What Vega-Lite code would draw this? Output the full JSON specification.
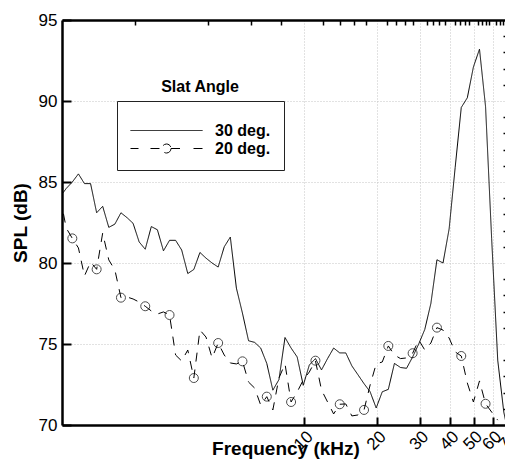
{
  "$schema": "https://vega.github.io/schema/vega-lite/v6.json",
  "width": 447,
  "height": 405,
  "autosize": {"type": "none"},
  "padding": {"left": 62, "top": 20, "right": -4, "bottom": 36},
  "config": {
    "view": {"stroke": null},
    "font": "Liberation Sans",
    "axis": {
      "domainColor": "black",
      "domainWidth": 2.5,
      "tickColor": "black",
      "labelColor": "black",
      "labelFont": "Liberation Sans",
      "labelFontSize": 17,
      "titleFont": "Liberation Sans",
      "titleFontSize": 19,
      "titleFontWeight": "bold",
      "titleColor": "black",
      "gridColor": "#c4c4c4",
      "gridDash": [1, 2],
      "gridWidth": 1
    }
  },
  "datasets": {
    "d": [
      {"f": 0.983, "spl": 84.1, "s": "30 deg."},
      {"f": 1.041, "spl": 84.6, "s": "30 deg."},
      {"f": 1.103, "spl": 85.0, "s": "30 deg."},
      {"f": 1.169, "spl": 85.5, "s": "30 deg."},
      {"f": 1.238, "spl": 84.9, "s": "30 deg."},
      {"f": 1.312, "spl": 84.9, "s": "30 deg."},
      {"f": 1.390, "spl": 83.1, "s": "30 deg."},
      {"f": 1.472, "spl": 83.5, "s": "30 deg."},
      {"f": 1.560, "spl": 82.2, "s": "30 deg."},
      {"f": 1.653, "spl": 82.4, "s": "30 deg."},
      {"f": 1.751, "spl": 83.1, "s": "30 deg."},
      {"f": 1.855, "spl": 82.8, "s": "30 deg."},
      {"f": 1.965, "spl": 82.45, "s": "30 deg."},
      {"f": 2.082, "spl": 81.3, "s": "30 deg."},
      {"f": 2.206, "spl": 80.85, "s": "30 deg."},
      {"f": 2.337, "spl": 82.25, "s": "30 deg."},
      {"f": 2.476, "spl": 82.05, "s": "30 deg."},
      {"f": 2.623, "spl": 80.75, "s": "30 deg."},
      {"f": 2.779, "spl": 81.4, "s": "30 deg."},
      {"f": 2.944, "spl": 81.4, "s": "30 deg."},
      {"f": 3.119, "spl": 80.8, "s": "30 deg."},
      {"f": 3.305, "spl": 79.35, "s": "30 deg."},
      {"f": 3.501, "spl": 79.6, "s": "30 deg."},
      {"f": 3.710, "spl": 80.65, "s": "30 deg."},
      {"f": 3.930, "spl": 80.3, "s": "30 deg."},
      {"f": 4.164, "spl": 80.0, "s": "30 deg."},
      {"f": 4.412, "spl": 79.75, "s": "30 deg."},
      {"f": 4.674, "spl": 81.0, "s": "30 deg."},
      {"f": 4.952, "spl": 81.6, "s": "30 deg."},
      {"f": 5.246, "spl": 78.45, "s": "30 deg."},
      {"f": 5.558, "spl": 76.9, "s": "30 deg."},
      {"f": 5.889, "spl": 75.2, "s": "30 deg."},
      {"f": 6.239, "spl": 75.1, "s": "30 deg."},
      {"f": 6.610, "spl": 74.75, "s": "30 deg."},
      {"f": 7.003, "spl": 73.8, "s": "30 deg."},
      {"f": 7.419, "spl": 72.15, "s": "30 deg."},
      {"f": 7.861, "spl": 72.8, "s": "30 deg."},
      {"f": 8.328, "spl": 75.4, "s": "30 deg."},
      {"f": 8.823, "spl": 74.75, "s": "30 deg."},
      {"f": 9.348, "spl": 74.2, "s": "30 deg."},
      {"f": 9.904, "spl": 72.45, "s": "30 deg."},
      {"f": 10.49, "spl": 73.7, "s": "30 deg."},
      {"f": 11.12, "spl": 74.1, "s": "30 deg."},
      {"f": 11.78, "spl": 73.4, "s": "30 deg."},
      {"f": 12.48, "spl": 74.1, "s": "30 deg."},
      {"f": 13.22, "spl": 74.75, "s": "30 deg."},
      {"f": 14.01, "spl": 74.45, "s": "30 deg."},
      {"f": 14.84, "spl": 74.45, "s": "30 deg."},
      {"f": 15.72, "spl": 73.65, "s": "30 deg."},
      {"f": 16.66, "spl": 73.1, "s": "30 deg."},
      {"f": 17.65, "spl": 72.55, "s": "30 deg."},
      {"f": 18.70, "spl": 72.05, "s": "30 deg."},
      {"f": 19.81, "spl": 71.05, "s": "30 deg."},
      {"f": 20.99, "spl": 72.05, "s": "30 deg."},
      {"f": 22.23, "spl": 72.2, "s": "30 deg."},
      {"f": 23.56, "spl": 73.8, "s": "30 deg."},
      {"f": 24.96, "spl": 73.55, "s": "30 deg."},
      {"f": 26.44, "spl": 73.5, "s": "30 deg."},
      {"f": 28.01, "spl": 74.2, "s": "30 deg."},
      {"f": 29.68, "spl": 75.0, "s": "30 deg."},
      {"f": 31.44, "spl": 75.9, "s": "30 deg."},
      {"f": 33.31, "spl": 77.5, "s": "30 deg."},
      {"f": 35.29, "spl": 80.2, "s": "30 deg."},
      {"f": 37.39, "spl": 80.0, "s": "30 deg."},
      {"f": 39.62, "spl": 82.1, "s": "30 deg."},
      {"f": 41.97, "spl": 85.9, "s": "30 deg."},
      {"f": 44.47, "spl": 89.6, "s": "30 deg."},
      {"f": 47.11, "spl": 90.2, "s": "30 deg."},
      {"f": 49.91, "spl": 92.1, "s": "30 deg."},
      {"f": 52.88, "spl": 93.2, "s": "30 deg."},
      {"f": 56.02, "spl": 89.65, "s": "30 deg."},
      {"f": 59.36, "spl": 81.5, "s": "30 deg."},
      {"f": 62.89, "spl": 74.0, "s": "30 deg."},
      {"f": 66.62, "spl": 70.8, "s": "30 deg."},
      {"f": 70.59, "spl": 69.0, "s": "30 deg."},
      {"f": 0.983, "spl": 84.07, "s": "20 deg.", "m": 0},
      {"f": 1.041, "spl": 82.16, "s": "20 deg.", "m": 0},
      {"f": 1.103, "spl": 81.52, "s": "20 deg.", "m": 1},
      {"f": 1.169, "spl": 80.93, "s": "20 deg.", "m": 0},
      {"f": 1.238, "spl": 79.2, "s": "20 deg.", "m": 0},
      {"f": 1.312, "spl": 80.06, "s": "20 deg.", "m": 0},
      {"f": 1.390, "spl": 79.61, "s": "20 deg.", "m": 1},
      {"f": 1.472, "spl": 81.85, "s": "20 deg.", "m": 0},
      {"f": 1.560, "spl": 80.19, "s": "20 deg.", "m": 0},
      {"f": 1.653, "spl": 79.57, "s": "20 deg.", "m": 0},
      {"f": 1.751, "spl": 77.86, "s": "20 deg.", "m": 1},
      {"f": 1.855, "spl": 77.9, "s": "20 deg.", "m": 0},
      {"f": 1.965, "spl": 77.78, "s": "20 deg.", "m": 0},
      {"f": 2.082, "spl": 77.59, "s": "20 deg.", "m": 0},
      {"f": 2.206, "spl": 77.33, "s": "20 deg.", "m": 1},
      {"f": 2.337, "spl": 77.04, "s": "20 deg.", "m": 0},
      {"f": 2.476, "spl": 76.85, "s": "20 deg.", "m": 0},
      {"f": 2.623, "spl": 76.98, "s": "20 deg.", "m": 0},
      {"f": 2.779, "spl": 76.79, "s": "20 deg.", "m": 1},
      {"f": 2.944, "spl": 74.32, "s": "20 deg.", "m": 0},
      {"f": 3.119, "spl": 73.95, "s": "20 deg.", "m": 0},
      {"f": 3.305, "spl": 74.63, "s": "20 deg.", "m": 0},
      {"f": 3.501, "spl": 72.9, "s": "20 deg.", "m": 1},
      {"f": 3.710, "spl": 75.86, "s": "20 deg.", "m": 0},
      {"f": 3.930, "spl": 75.43, "s": "20 deg.", "m": 0},
      {"f": 4.164, "spl": 74.14, "s": "20 deg.", "m": 0},
      {"f": 4.412, "spl": 75.06, "s": "20 deg.", "m": 1},
      {"f": 4.674, "spl": 74.32, "s": "20 deg.", "m": 0},
      {"f": 4.952, "spl": 73.83, "s": "20 deg.", "m": 0},
      {"f": 5.246, "spl": 73.77, "s": "20 deg.", "m": 0},
      {"f": 5.558, "spl": 73.93, "s": "20 deg.", "m": 1},
      {"f": 5.889, "spl": 72.65, "s": "20 deg.", "m": 0},
      {"f": 6.239, "spl": 72.28, "s": "20 deg.", "m": 0},
      {"f": 6.610, "spl": 71.23, "s": "20 deg.", "m": 0},
      {"f": 7.003, "spl": 71.75, "s": "20 deg.", "m": 1},
      {"f": 7.419, "spl": 70.93, "s": "20 deg.", "m": 0},
      {"f": 7.861, "spl": 72.9, "s": "20 deg.", "m": 0},
      {"f": 8.328, "spl": 73.77, "s": "20 deg.", "m": 0},
      {"f": 8.823, "spl": 71.42, "s": "20 deg.", "m": 1},
      {"f": 9.348, "spl": 72.04, "s": "20 deg.", "m": 0},
      {"f": 9.904, "spl": 72.78, "s": "20 deg.", "m": 0},
      {"f": 10.49, "spl": 73.27, "s": "20 deg.", "m": 0},
      {"f": 11.12, "spl": 73.97, "s": "20 deg.", "m": 1},
      {"f": 11.78, "spl": 72.16, "s": "20 deg.", "m": 0},
      {"f": 12.48, "spl": 71.42, "s": "20 deg.", "m": 0},
      {"f": 13.22, "spl": 70.68, "s": "20 deg.", "m": 0},
      {"f": 14.01, "spl": 71.28, "s": "20 deg.", "m": 1},
      {"f": 14.84, "spl": 71.3, "s": "20 deg.", "m": 0},
      {"f": 15.72, "spl": 70.56, "s": "20 deg.", "m": 0},
      {"f": 16.66, "spl": 70.62, "s": "20 deg.", "m": 0},
      {"f": 17.65, "spl": 70.93, "s": "20 deg.", "m": 1},
      {"f": 18.70, "spl": 72.47, "s": "20 deg.", "m": 0},
      {"f": 19.81, "spl": 73.77, "s": "20 deg.", "m": 0},
      {"f": 20.99, "spl": 73.89, "s": "20 deg.", "m": 0},
      {"f": 22.23, "spl": 74.88, "s": "20 deg.", "m": 1},
      {"f": 23.56, "spl": 74.32, "s": "20 deg.", "m": 0},
      {"f": 24.96, "spl": 74.1, "s": "20 deg.", "m": 0},
      {"f": 26.44, "spl": 74.14, "s": "20 deg.", "m": 0},
      {"f": 28.01, "spl": 74.43, "s": "20 deg.", "m": 1},
      {"f": 29.68, "spl": 75.25, "s": "20 deg.", "m": 0},
      {"f": 31.44, "spl": 74.63, "s": "20 deg.", "m": 0},
      {"f": 33.31, "spl": 75.06, "s": "20 deg.", "m": 0},
      {"f": 35.29, "spl": 76.01, "s": "20 deg.", "m": 1},
      {"f": 37.39, "spl": 75.86, "s": "20 deg.", "m": 0},
      {"f": 39.62, "spl": 75.37, "s": "20 deg.", "m": 0},
      {"f": 41.97, "spl": 74.51, "s": "20 deg.", "m": 0},
      {"f": 44.47, "spl": 74.26, "s": "20 deg.", "m": 1},
      {"f": 47.11, "spl": 72.59, "s": "20 deg.", "m": 0},
      {"f": 49.91, "spl": 71.42, "s": "20 deg.", "m": 0},
      {"f": 52.88, "spl": 72.72, "s": "20 deg.", "m": 0},
      {"f": 56.02, "spl": 71.31, "s": "20 deg.", "m": 1},
      {"f": 59.36, "spl": 70.8, "s": "20 deg.", "m": 0},
      {"f": 62.89, "spl": 70.3, "s": "20 deg.", "m": 0}
    ]
  },
  "data": {"name": "d"},
  "layer": [
    {
      "mark": {"type": "line", "stroke": "black", "strokeWidth": 1, "clip": true},
      "encoding": {
        "x": {
          "field": "f", "type": "quantitative",
          "scale": {"type": "log", "domain": [1, 70], "nice": false},
          "axis": {
            "values": [10, 20, 30, 40, 50, 60, 70],
            "format": "d",
            "title": "Frequency (kHz)",
            "tickSize": -8, "tickWidth": 2,
            "labelAngle": -45, "labelPadding": 11,
            "labelOverlap": false,
            "labelBound": false,
            "titlePadding": -13,
            "grid": true
          }
        },
        "y": {
          "field": "spl", "type": "quantitative",
          "scale": {"domain": [70, 95], "nice": false, "zero": false},
          "axis": {
            "values": [70, 75, 80, 85, 90, 95],
            "title": "SPL (dB)",
            "tickSize": -9, "tickWidth": 2,
            "labelPadding": 14,
            "titlePadding": 8,
            "grid": true
          }
        },
        "strokeDash": {
          "field": "s", "type": "nominal",
          "scale": {"domain": ["30 deg.", "20 deg."], "range": [[1, 0], [9, 8]]},
          "legend": {
            "title": "Slat Angle",
            "orient": "none",
            "legendX": 55,
            "legendY": 81,
            "strokeColor": "#222",
            "padding": 13,
            "titleFont": "Liberation Sans",
            "titleFontSize": 16,
            "titleFontWeight": "bold",
            "titleColor": "black",
            "titleAnchor": "middle",
            "titlePadding": -9,
            "labelFont": "Liberation Sans",
            "labelFontSize": 16,
            "labelFontWeight": "bold",
            "labelColor": "black",
            "labelOffset": 66,
            "symbolSize": 324,
            "symbolStrokeWidth": 1,
            "symbolStrokeColor": "black",
            "rowPadding": 0,
            "encode": {
              "symbols": {
                "update": {
                  "shape": {"signal": "datum.value === '20 deg.' ? 'M-1,0H-0.11M1.22,0H2.5M3.5,0H4.56M6,0H7M3.5,0A0.5,0.5 0 1,1 2.5,0A0.5,0.5 0 1,1 3.5,0' : 'M-1,0H7'"},
                  "strokeDash": {"value": [1, 0]},
                  "fill": {"value": "transparent"},
                  "stroke": {"value": "black"}
                }
              },
              "title": {"update": {"dy": {"value": -35}}}
            }
          }
        }
      }
    },
    {
      "transform": [{"filter": "datum.m == 1"}],
      "mark": {"type": "point", "shape": "circle", "filled": false, "size": 81, "stroke": "black", "strokeWidth": 1, "clip": true},
      "encoding": {
        "x": {
          "field": "f", "type": "quantitative",
          "axis": {
            "values": [2, 4, 6, 8, 12, 14, 16, 18, 22, 24, 26, 28, 32, 34, 36, 38, 42, 44, 46, 48, 52, 54, 56, 58, 62, 64, 66, 68],
            "labels": false, "title": null, "grid": false,
            "tickSize": -5, "tickWidth": 1.5
          }
        },
        "y": {
          "field": "spl", "type": "quantitative",
          "axis": {
            "values": [71, 72, 73, 74, 76, 77, 78, 79, 81, 82, 83, 84, 86, 87, 88, 89, 91, 92, 93, 94],
            "labels": false, "title": null, "grid": false,
            "tickSize": -6, "tickWidth": 1.5
          }
        }
      }
    }
  ],
  "resolve": {"axis": {"x": "independent", "y": "independent"}}
}
